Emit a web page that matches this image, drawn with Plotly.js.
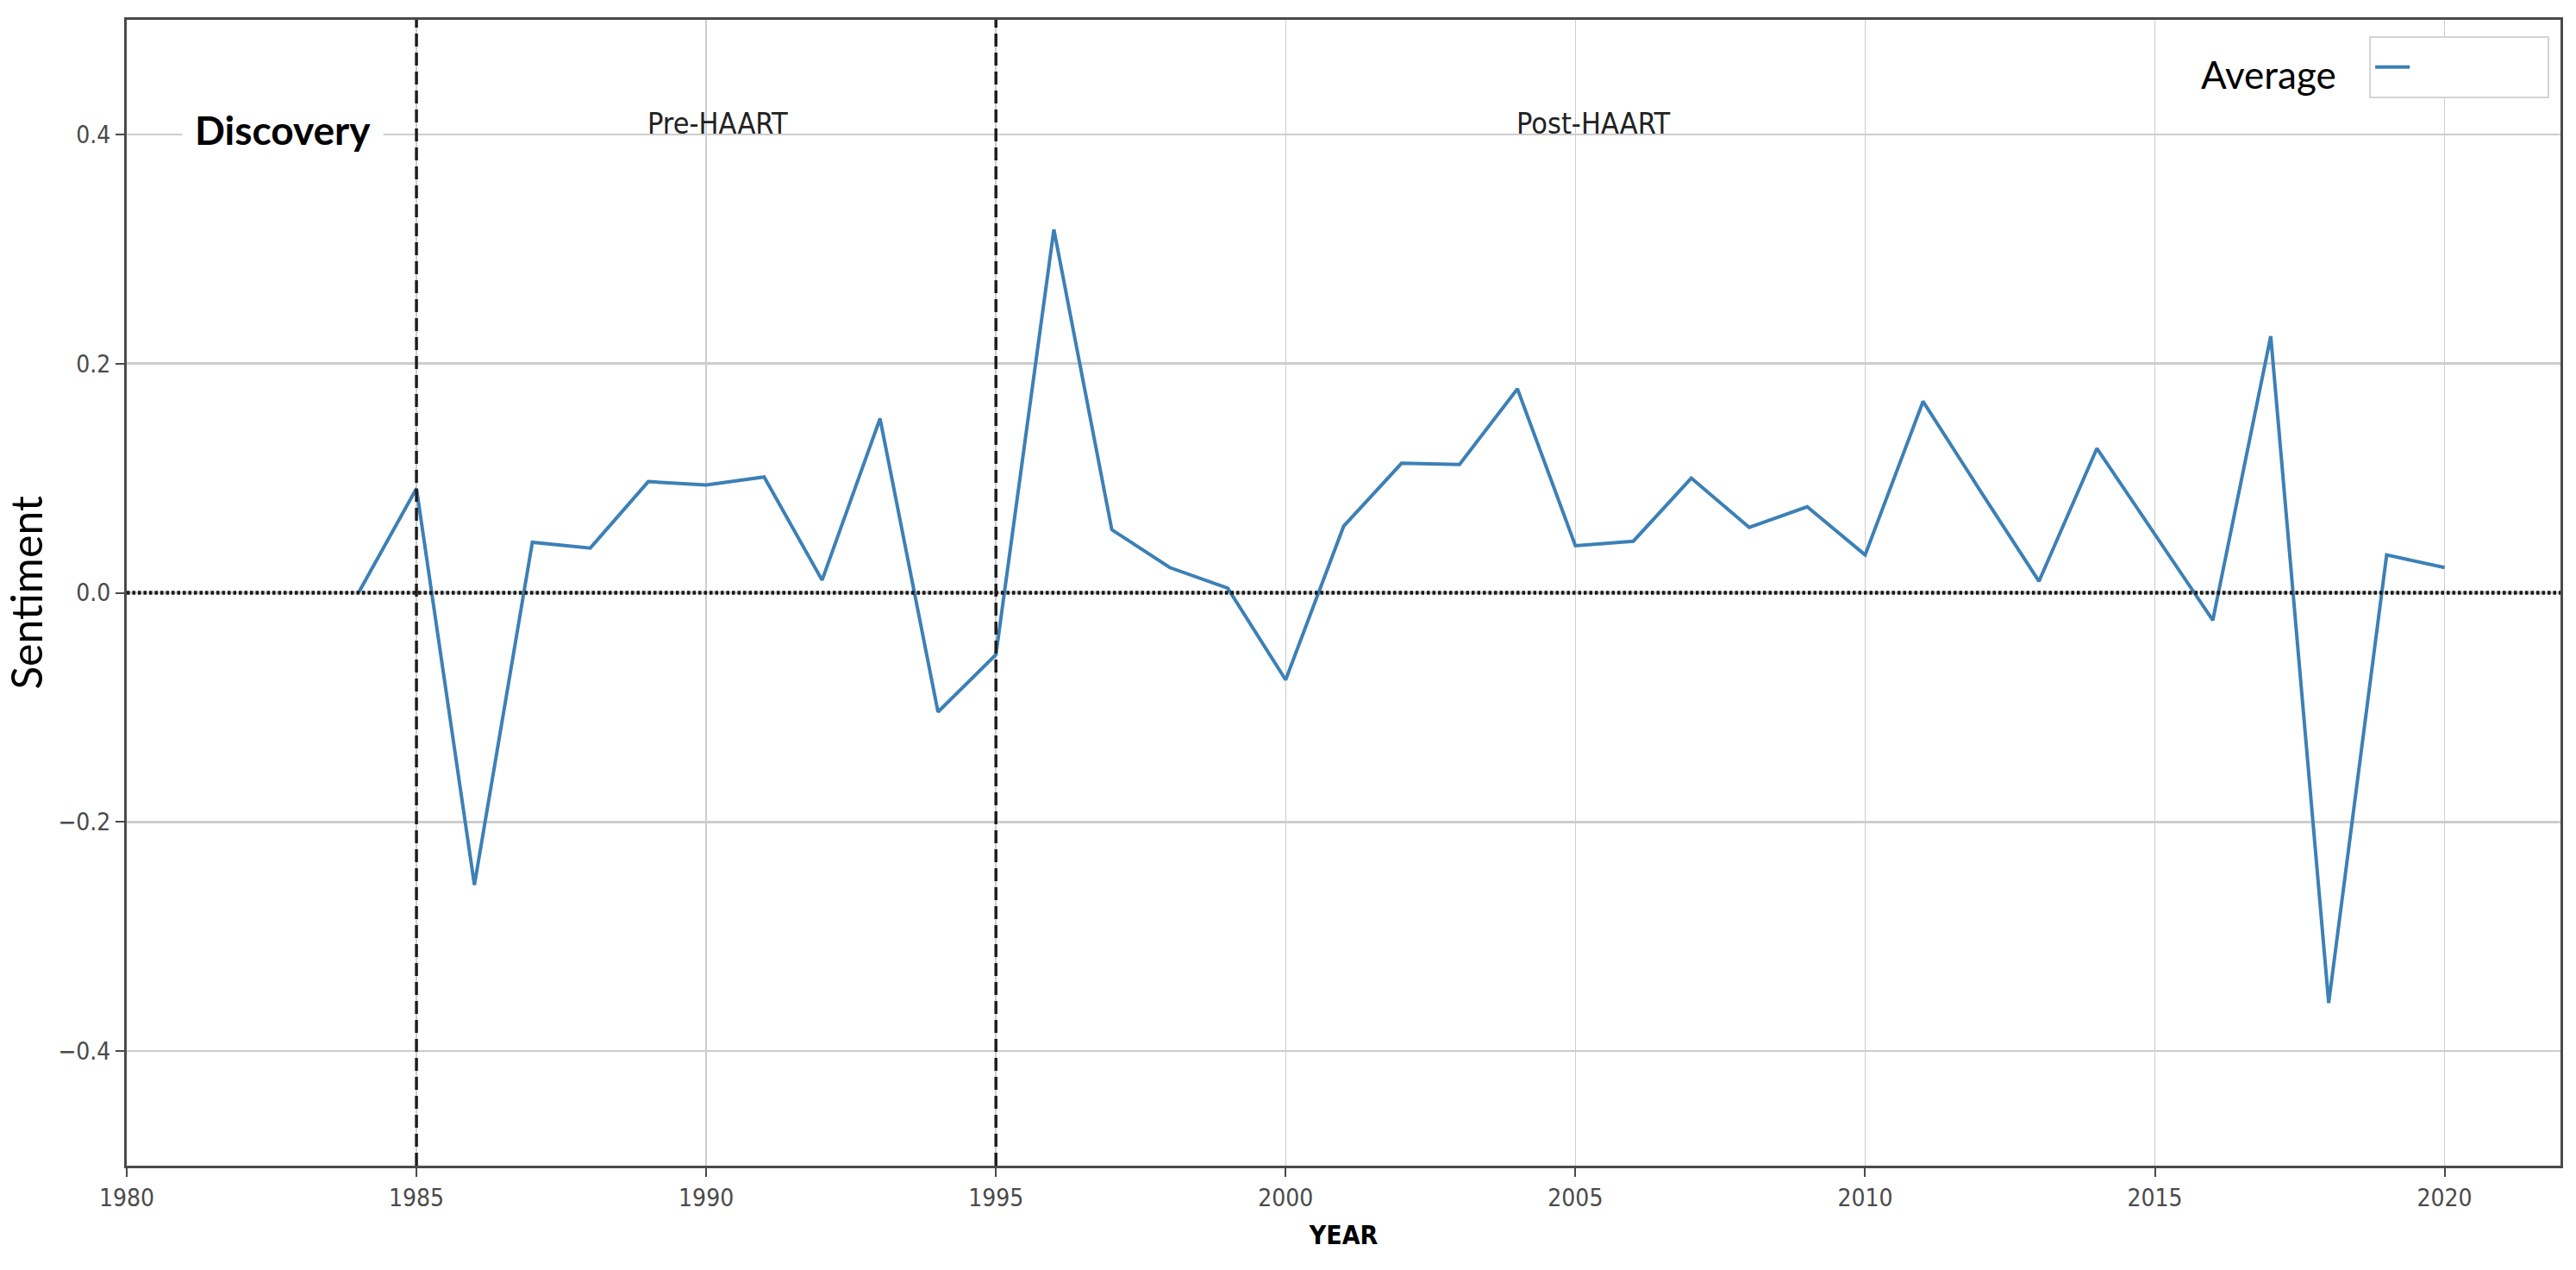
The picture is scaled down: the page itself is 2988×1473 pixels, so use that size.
<!DOCTYPE html>
<html>
<head>
<meta charset="utf-8">
<script src="https://cdn.plot.ly/plotly-3.0.1.min.js"></script>
<style>
  html, body { margin: 0; padding: 0; background: #ffffff; }
  #chart { width: 2988px; height: 1473px; }
</style>
</head>
<body>
<div id="chart"></div>
<script>
// ---- data ----
const years = [1984, 1985, 1986, 1987, 1988, 1989, 1990, 1991, 1992, 1993, 1994, 1995,
               1996, 1997, 1998, 1999, 2000, 2001, 2002, 2003, 2004, 2005, 2006, 2007,
               2008, 2009, 2010, 2011, 2012, 2013, 2014, 2015, 2016, 2017, 2018, 2019, 2020];
const sentiment = [0.000, 0.091, -0.255, 0.044, 0.039, 0.097, 0.094, 0.101, 0.011, 0.152, -0.104, -0.054,
                   0.317, 0.055, 0.022, 0.004, -0.076, 0.058, 0.113, 0.112, 0.178, 0.041, 0.045, 0.100,
                   0.057, 0.075, 0.033, 0.167, 0.088, 0.010, 0.126, 0.051, -0.024, 0.224, -0.358, 0.033, 0.022];
const seriesName = 'Average';
const eraBoundaryYears = [1985, 1995];
const baselineValue = 0;
const eraLabels = ['Discovery', 'Pre-HAART', 'Post-HAART'];
const xTickValues = [1980, 1985, 1990, 1995, 2000, 2005, 2010, 2015, 2020];
const xTickLabels = ['1980', '1985', '1990', '1995', '2000', '2005', '2010', '2015', '2020'];
const yTickValues = [-0.4, -0.2, 0.0, 0.2, 0.4];
const yTickLabels = ['\u22120.4', '\u22120.2', '0.0', '0.2', '0.4'];
const xAxisTitle = 'YEAR';
const yAxisTitle = 'Sentiment';

// ---- styling ----
const condensed = 'DejaVu Sans Condensed, DejaVu Sans, sans-serif';
const humanist = 'Lato, Open Sans, sans-serif';
const axisColor = '#4a4a4a';
const gridColor = '#cdcdcd';

const trace = {
  type: 'scatter',
  mode: 'lines',
  name: seriesName,
  x: years,
  y: sentiment,
  line: { color: '#3c80b6', width: 4 },
  showlegend: true
};

const shapes = eraBoundaryYears.map(yr => ({
  type: 'line', xref: 'x', yref: 'paper',
  x0: yr, x1: yr, y0: 0, y1: 1,
  line: { color: '#1e1e1e', width: 3.5, dash: '15px,7px' }
}));
shapes.push({
  type: 'line', xref: 'paper', yref: 'y',
  x0: 0, x1: 1, y0: baselineValue, y1: baselineValue,
  line: { color: '#1a1a1a', width: 4.5, dash: '3.5px,3px' }
});

const annotations = [
  { text: eraLabels[0], xref: 'x', yref: 'y', x: 1982.7, y: 0.404, showarrow: false,
    xanchor: 'center', yanchor: 'middle', bgcolor: '#ffffff', borderpad: 14,
    font: { family: humanist, size: 46, weight: 'bold', color: '#000000' } },
  { text: eraLabels[1], xref: 'x', yref: 'y', x: 1990.2, y: 0.41, showarrow: false,
    xanchor: 'center', yanchor: 'middle',
    font: { family: condensed, size: 34, color: '#222222' } },
  { text: eraLabels[2], xref: 'x', yref: 'y', x: 2005.3, y: 0.41, showarrow: false,
    xanchor: 'center', yanchor: 'middle',
    font: { family: condensed, size: 34, color: '#222222' } },
  { text: seriesName, xref: 'paper', yref: 'paper', x: 0.880, y: 0.9526, showarrow: false,
    xanchor: 'center', yanchor: 'middle',
    font: { family: humanist, size: 44, color: '#000000' } }
];

const commonAxis = {
  showline: true, mirror: true, linecolor: axisColor, linewidth: 3,
  ticks: 'outside', ticklen: 10, tickwidth: 2, tickcolor: axisColor,
  showgrid: true, gridcolor: gridColor, zeroline: false, automargin: false,
  tickfont: { family: condensed, size: 28, color: '#4a4a4a' }
};

const layout = {
  width: 2988, height: 1473, autosize: false,
  margin: { l: 147, r: 18, t: 23, b: 121, pad: 0 },
  paper_bgcolor: '#ffffff', plot_bgcolor: '#ffffff',
  xaxis: Object.assign({}, commonAxis, {
    range: [1980, 2022], tickmode: 'array', tickvals: xTickValues, ticktext: xTickLabels,
    gridwidth: 1.5,
    title: { text: xAxisTitle, standoff: 18,
             font: { family: condensed, size: 30, weight: 'bold', color: '#000000' } }
  }),
  yaxis: Object.assign({}, commonAxis, {
    range: [-0.5, 0.5], tickmode: 'array', tickvals: yTickValues, ticktext: yTickLabels,
    gridwidth: 2.5,
    title: { text: yAxisTitle, standoff: 8,
             font: { family: humanist, size: 50, color: '#000000' } }
  }),
  showlegend: true,
  legend: {
    x: 0.9214, y: 0.9857, xanchor: 'left', yanchor: 'top',
    bgcolor: '#ffffff', bordercolor: '#d4d4d4', borderwidth: 2,
    itemwidth: 40,
    font: { family: humanist, size: 42, color: 'rgba(255,255,255,0)' }
  },
  shapes: shapes,
  annotations: annotations
};

Plotly.newPlot('chart', [trace], layout, { staticPlot: true, displayModeBar: false });
</script>
</body>
</html>
